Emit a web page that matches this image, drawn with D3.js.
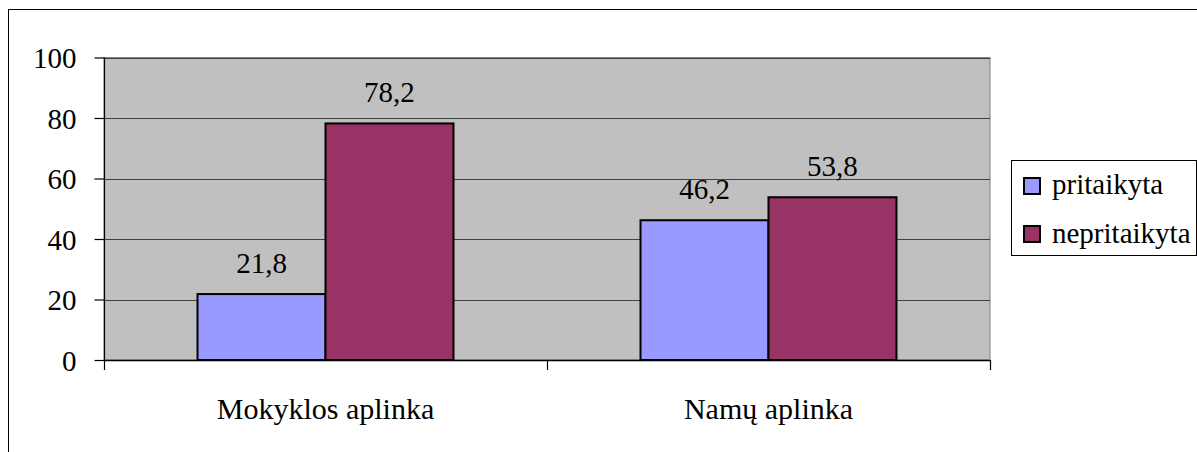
<!DOCTYPE html>
<html><head><meta charset="utf-8">
<script src="https://cdn.jsdelivr.net/npm/d3@7"></script>
<style>body{margin:0;background:#fff}svg{display:block}</style>
</head><body>
<svg id="c" width="1197" height="452"></svg>
<script>
const categories = ["Mokyklos aplinka", "Namų aplinka"];
const seriesNames = ["pritaikyta", "nepritaikyta"];
const pritaikyta = [21.8, 46.2];
const nepritaikyta = [78.2, 53.8];
const labels = [["21,8", "46,2"], ["78,2", "53,8"]];
const yTicks = [0, 20, 40, 60, 80, 100];
const colors = ["#9999FF", "#993366"];

const FONT = "'Times New Roman', 'Liberation Serif', Tinos, 'DejaVu Serif', 'Noto Serif', serif";
const svg = d3.select("#c").attr("font-family", FONT);
const L = 104, R = 990, T = 57.5, B = 360;
const fs = 29;

svg.append("rect").attr("x", 8.5).attr("y", 9.5).attr("width", 1300).attr("height", 600)
  .attr("fill", "none").attr("stroke", "#000").attr("stroke-width", 1);

const x0 = d3.scaleBand().domain(categories).range([L, R]).paddingInner(0).paddingOuter(0);
const x1 = d3.scaleBand().domain(seriesNames).range([0, x0.bandwidth()]).paddingInner(0).paddingOuter(0.7307);
const y = d3.scaleLinear().domain([0, 100]).range([B, T]);

svg.append("rect").attr("x", L).attr("y", T).attr("width", R - L).attr("height", B - T)
  .attr("fill", "#C0C0C0").attr("stroke", "#808080").attr("stroke-width", 1);

svg.append("g").selectAll("line").data(yTicks.filter(d => d > 0)).join("line")
  .attr("x1", L).attr("x2", R).attr("y1", d => Math.round(y(d)) + 0.5).attr("y2", d => Math.round(y(d)) + 0.5)
  .attr("stroke", "#404040").attr("stroke-width", 1.2);

const data = [pritaikyta, nepritaikyta];
seriesNames.forEach((s, si) => {
  svg.append("g").selectAll("rect").data(categories).join("rect")
    .attr("x", c => x0(c) + x1(s))
    .attr("y", (c, i) => y(data[si][i]))
    .attr("width", x1.bandwidth())
    .attr("height", (c, i) => y(0) - y(data[si][i]))
    .attr("fill", colors[si]).attr("stroke", "#000").attr("stroke-width", 2);
  svg.append("g").selectAll("text").data(categories).join("text")
    .attr("x", c => x0(c) + x1(s) + x1.bandwidth() / 2)
    .attr("y", (c, i) => y(data[si][i]) - 21)
    .attr("text-anchor", "middle").attr("font-size", fs).attr("font-family", FONT)
    .text((c, i) => labels[si][i]);
});

const yAxis = svg.append("g").attr("transform", `translate(${L + 0.5},0)`)
  .call(d3.axisLeft(y).tickValues(yTicks).tickSize(10).tickPadding(18).tickFormat(d3.format("d")));
yAxis.attr("font-family", FONT).attr("font-size", fs);
yAxis.select(".domain").attr("stroke", "#000").attr("stroke-width", 1.2).attr("d", `M0,${T}V${B + 0.5}`);
yAxis.selectAll(".tick line").attr("stroke", "#000").attr("stroke-width", 1.2);
yAxis.selectAll(".tick text").attr("font-size", fs).attr("font-family", FONT).attr("fill", "#000").attr("dy", "0.35em");

const xg = svg.append("g");
xg.append("line").attr("x1", L).attr("x2", R).attr("y1", B + 0.5).attr("y2", B + 0.5).attr("stroke", "#000").attr("stroke-width", 1.5);
const seps = [L, ...categories.map(c => x0(c) + x0.bandwidth())];
xg.selectAll("line.sep").data(seps).join("line").attr("class", "sep")
  .attr("x1", d => d + 0.5).attr("x2", d => d + 0.5).attr("y1", B).attr("y2", B + 10)
  .attr("stroke", "#000").attr("stroke-width", 1.2);
xg.selectAll("text").data(categories).join("text")
  .attr("x", c => x0(c) + x0.bandwidth() / 2).attr("y", 419)
  .attr("text-anchor", "middle").attr("font-size", 30).attr("font-family", FONT).text(d => d);

const lg = svg.append("g");
lg.append("rect").attr("x", 1011.5).attr("y", 160.5).attr("width", 185).attr("height", 95)
  .attr("fill", "#fff").attr("stroke", "#000").attr("stroke-width", 1);
seriesNames.forEach((s, i) => {
  lg.append("rect").attr("x", 1024).attr("y", 178 + i * 48).attr("width", 16).attr("height", 16)
    .attr("fill", colors[i]).attr("stroke", "#000").attr("stroke-width", 2);
  lg.append("text").attr("x", 1052).attr("y", 194 + i * 49).attr("font-size", fs).attr("font-family", FONT).text(s);
});
</script>
</body></html>
